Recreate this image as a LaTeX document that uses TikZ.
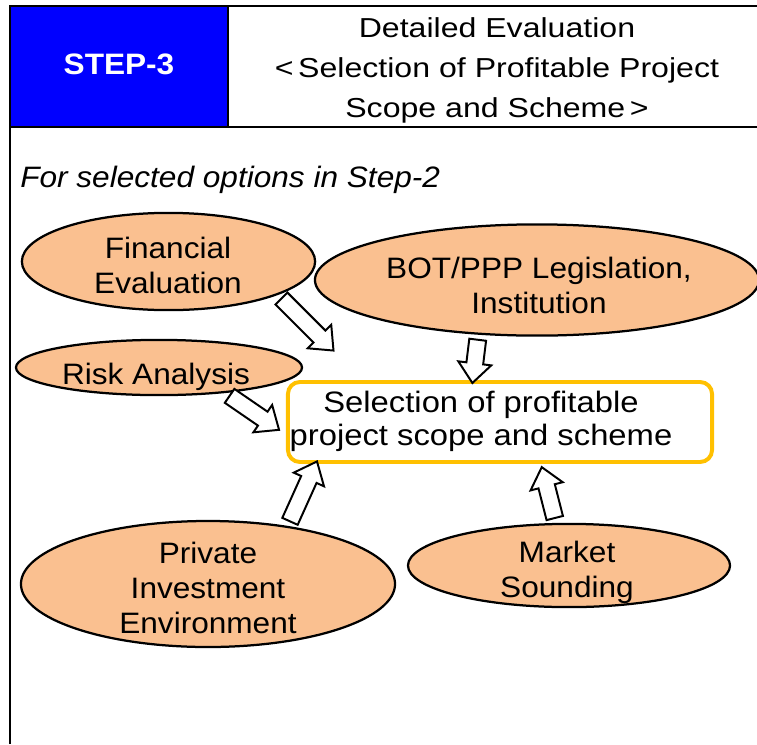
\documentclass[tikz,border=0pt]{standalone}
\usepackage{fontspec}
\setmainfont{Liberation Sans}[FakeStretch=1.07]
\newfontfamily\headfont{Liberation Sans}[FakeStretch=1.17]
\newfontfamily\selfont{Liberation Sans}[FakeStretch=1.11]
\usetikzlibrary{shapes.geometric,shapes.arrows,calc}

\definecolor{stepblue}{RGB}{0,0,255}
\definecolor{peach}{RGB}{250,192,144}
\definecolor{selorange}{RGB}{255,192,0}

\begin{document}
\begin{tikzpicture}[x=0.025cm, y=-0.025cm,
	frame/.style={line width=1.8pt},
	factor/.style={ellipse, draw=black, line width=1.6pt, fill=peach, inner sep=0pt},
	factortext/.style={align=center, inner sep=0pt, font=\fontsize{21}{25}\selectfont},
	hollow/.style={single arrow, draw=black, fill=white, line width=1.4pt, inner sep=5.3pt,
		single arrow head extend=5.8pt, single arrow tip angle=80, allow upside down}]
	\useasboundingbox (0,0) rectangle (757,744);
	%% header
	\fill[stepblue] (10,6) rectangle (228,127);
	\draw[frame] (10,744) -- (10,6) -- (757,6);
	\draw[frame] (10,127) -- (757,127);
	\draw[frame] (228,6) -- (228,127);
	\node[text=white, font=\bfseries\fontsize{21}{25}\selectfont] (step) at (119,64) {STEP-3};
	\node[align=center, inner sep=0pt, font=\headfont\fontsize{19.5}{28.5}\selectfont] (title) at (497,70)
		{Detailed Evaluation\\<\,Selection of Profitable Project\\Scope and Scheme\,>};
	\node[anchor=base west, inner sep=0pt, font=\itshape\fontsize{21}{25}\selectfont] (note) at (20,187)
		{For selected options in Step-2};
	%% factors
	\node[factor, minimum width=7.33cm, minimum height=2.43cm] (fin) at (168.5,261.5) {};
	\node[factor, minimum width=11.1cm, minimum height=2.78cm] (bot) at (537,280) {};
	\node[factor, minimum width=7.15cm, minimum height=1.38cm] (risk) at (159,367.5) {};
	\node[factor, minimum width=9.35cm, minimum height=3.15cm] (priv) at (208,584) {};
	\node[factor, minimum width=8.05cm, minimum height=2.08cm] (mkt) at (569,565.5) {};
	%% factor labels
	\node[factortext] (fintxt) at (168,265.5) {Financial\\Evaluation};
	\node[factortext] (bottxt) at (539,285.5) {BOT/PPP Legislation,\\Institution};
	\node[factortext] (risktxt) at (156,377) {Risk Analysis};
	\node[factortext] (privtxt) at (208,588) {Private\\Investment\\Environment};
	\node[factortext] (mkttxt) at (567,572.5) {Market\\Sounding};
	%% target
	\node[draw=selorange, line width=2.8pt, rounded corners=8.5pt, outer sep=0pt,
		minimum width=10.6cm, minimum height=2cm] (sel) at (500,422) {};
	\node[factortext, font=\selfont\fontsize{21}{23.5}\selectfont] (seltxt) at (481,421)
		{Selection of profitable\\project scope and scheme};
	\coordinate (tipfin) at ($(sel.north west)+(42,-35)$);
	\coordinate (tipbot) at ($(sel.north)+(-27,-4)$);
	\coordinate (tiprisk) at ($(sel.west)+(-13,5)$);
	\coordinate (tippriv) at ($(sel.south west)+(27,4)$);
	\coordinate (tipmkt) at ($(sel.south)+(43,10)$);
	%%% arrows
	\path let \p1=($(tipfin)-(fin.-17)$) in (fin.-17) -- (tipfin)
		node[hollow, midway, sloped, minimum height={veclen(\x1,\y1)}] {};
	\path let \p1=($(tipbot)-(bot.-137)$) in (bot.-137) -- (tipbot)
		node[hollow, midway, sloped, minimum height={veclen(\x1,\y1)}] {};
	\path let \p1=($(tiprisk)-(risk.-21)$) in (risk.-21) -- (tiprisk)
		node[hollow, midway, sloped, minimum height={veclen(\x1,\y1)}] {};
	\path let \p1=($(tippriv)-(priv.36)$) in (priv.36) -- (tippriv)
		node[hollow, midway, sloped, minimum height={veclen(\x1,\y1)}] {};
	\path let \p1=($(tipmkt)-(mkt.107)$) in (mkt.107) -- (tipmkt)
		node[hollow, midway, sloped, minimum height={veclen(\x1,\y1)}] {};
\end{tikzpicture}
\end{document}
